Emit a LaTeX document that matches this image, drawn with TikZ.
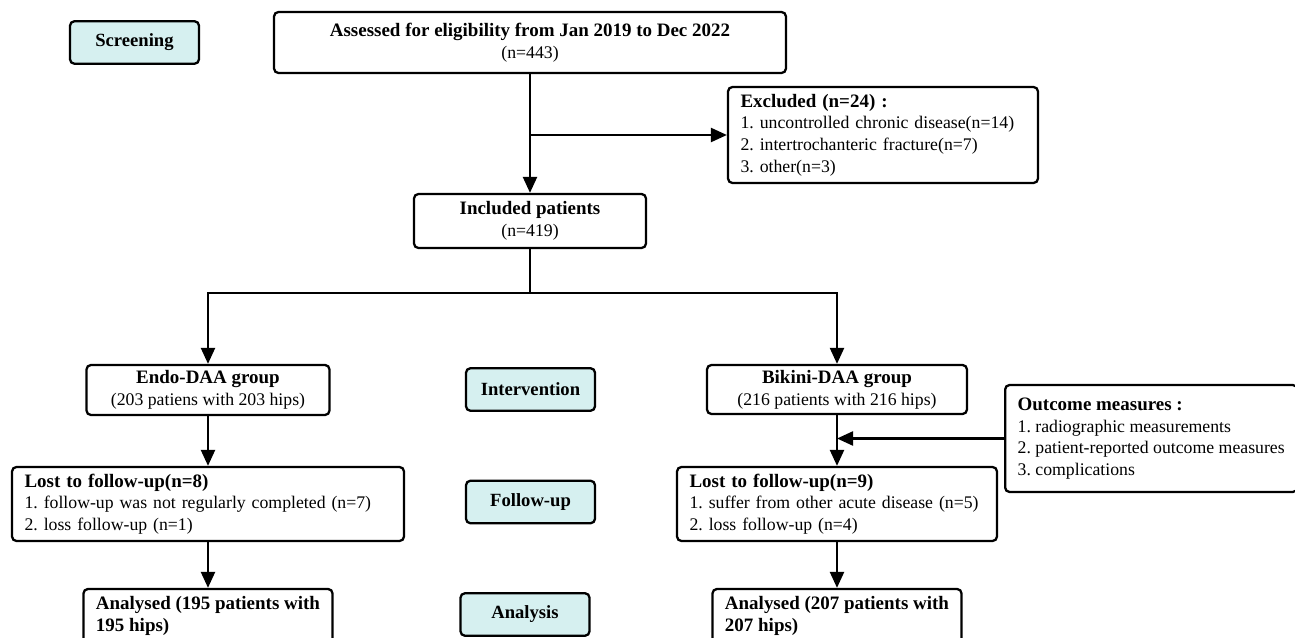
\documentclass[tikz,border=0pt]{standalone}
\usepackage{fontspec}
\setmainfont{Liberation Serif}
\usetikzlibrary{arrows.meta, positioning}
\definecolor{stagecyan}{RGB}{214,240,240}
\frenchspacing
\newcommand{\hd}[1]{{\fontsize{10.8}{12.4}\selectfont\bfseries #1}}
\tikzset{
	box/.style={draw, line width=1.3pt, rounded corners=2.5pt, align=center, inner sep=2pt, font=\fontsize{10.1}{12.4}\selectfont\frenchspacing},
	stagebox/.style={box, fill=stagecyan, minimum width=2.58cm, minimum height=0.85cm, font=\fontsize{10.6}{12.4}\selectfont\bfseries},
	listbox/.style={box, align=left, inner xsep=0.25cm},
	arr/.style={-{Triangle[length=0.32cm,width=0.28cm]}, line width=1.3pt},
	plain/.style={line width=1.3pt}
}

\begin{document}
\begin{tikzpicture}[x=0.02cm, y=-0.02cm]
		\useasboundingbox (0,0) rectangle (1295,638);
		\clip (0,0) rectangle (1295,638);
		% stages
		\draw (134.5,42.5) node[stagebox] (screen) {Screening}
		(530.5,389.5) node[stagebox] (interv) {Intervention}
		(530.5,502) node[stagebox] (follow) {Follow-up}
		(525,614.5) node[stagebox] (analysis) {Analysis};
		% flow
		\draw (530,42.5) node[box, minimum width=10.24cm, minimum height=1.22cm] (assess) {\hd{Assessed for eligibility from Jan 2019 to Dec 2022}\\(n=443)}
		(883,135) node[listbox, text width=5.7cm, minimum height=1.92cm] (excl) {\hd{Excluded (n=24) :}\\1. uncontrolled chronic disease(n=14)\\2. intertrochanteric fracture(n=7)\\3. other(n=3)}
		(530,221) node[box, minimum width=4.64cm, minimum height=1.08cm] (incl) {\hd{Included patients}\\(n=419)}
		(208,390) node[box, minimum width=4.86cm, minimum height=1.0cm] (endo) {\hd{Endo-DAA group}\\(203 patiens with 203 hips)}
		(837,389.5) node[box, minimum width=5.2cm, minimum height=0.98cm] (bikini) {\hd{Bikini-DAA group}\\(216 patients with 216 hips)}
		(1004,438.5) node[listbox, anchor=west, minimum height=2.14cm] (outcome) {\hd{Outcome measures :}\\1. radiographic measurements\\2. patient-reported outcome measures\\3. complications}
		(208,504) node[listbox, text width=7.34cm, minimum height=1.48cm] (lost1) {\hd{Lost to follow-up(n=8)}\\1. follow-up was not regularly completed (n=7)\\2. loss follow-up (n=1)}
		(837,504) node[listbox, text width=5.9cm, minimum height=1.48cm] (lost2) {\hd{Lost to follow-up(n=9)}\\1. suffer from other acute disease (n=5)\\2. loss follow-up (n=4)}
		(208,616) node[listbox, minimum width=4.98cm, minimum height=1.08cm] (anal1) {\hd{Analysed (195 patients with}\\\hd{195 hips)}}
		(837,616) node[listbox, minimum width=4.96cm, minimum height=1.08cm] (anal2) {\hd{Analysed (207 patients with}\\\hd{207 hips)}};
		
		\coordinate (exsplit) at (assess.south |- excl.west);
		\coordinate (split) at (530,293);
		\draw[arr] (assess) -- (incl);
		\draw[arr] (exsplit) -- (excl);
		\draw[plain] (incl) -- (split);
		\draw[arr] (split) -| (endo);
		\draw[arr] (split) -| (bikini);
		\draw[arr] (endo) -- (lost1);
		\draw[arr] (bikini) -- (lost2);
		\draw[arr] (outcome.west) -- (bikini |- outcome.west);
		\draw[arr] (lost1) -- (anal1);
		\draw[arr] (lost2) -- (anal2);
	\end{tikzpicture}
\end{document}
